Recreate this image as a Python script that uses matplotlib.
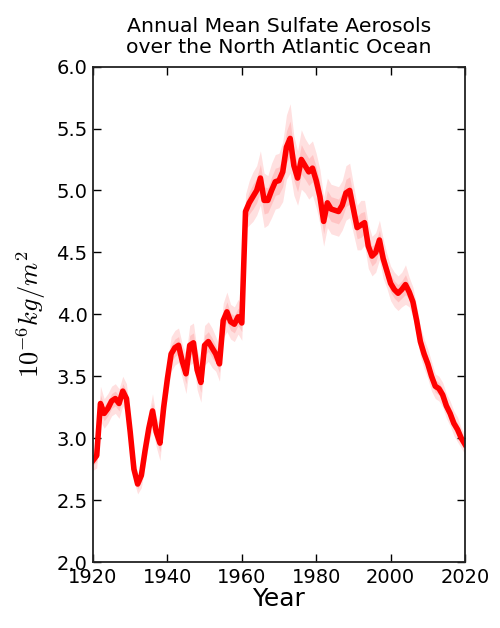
import matplotlib
matplotlib.use("Agg")
import matplotlib.pyplot as plt
import numpy as np

plt.rcParams["mathtext.fontset"] = "cm"

years = list(range(1920, 2021))
mean_vals = [
    2.82, 2.86, 3.28, 3.20, 3.24, 3.30, 3.32, 3.28, 3.38, 3.32,
    3.05, 2.75, 2.63, 2.70, 2.90, 3.08, 3.22, 3.05, 2.96, 3.25,
    3.48, 3.68, 3.73, 3.75, 3.62, 3.52, 3.75, 3.77, 3.55, 3.45,
    3.75, 3.78, 3.73, 3.68, 3.60, 3.95, 4.02, 3.94, 3.92, 3.98,
    3.93, 4.83, 4.90, 4.95, 5.00, 5.10, 4.92, 4.92, 5.00, 5.07,
    5.08, 5.15, 5.35, 5.42, 5.20, 5.10, 5.25, 5.20, 5.15, 5.18,
    5.08, 4.95, 4.75, 4.90, 4.85, 4.84, 4.83, 4.88, 4.98, 5.00,
    4.85, 4.70, 4.72, 4.74, 4.55, 4.47, 4.50, 4.60, 4.45, 4.35,
    4.25, 4.20, 4.17, 4.20, 4.24, 4.18, 4.10, 3.95, 3.78, 3.68,
    3.60, 3.50, 3.42, 3.40, 3.35, 3.26, 3.20, 3.12, 3.07, 3.00,
    2.95,
]
# approximate half-width of ensemble spread
spread = [
    0.08, 0.10, 0.14, 0.12, 0.12, 0.12, 0.12, 0.12, 0.12, 0.12,
    0.12, 0.10, 0.08, 0.10, 0.12, 0.12, 0.14, 0.12, 0.14, 0.14,
    0.14, 0.14, 0.14, 0.14, 0.14, 0.16, 0.16, 0.16, 0.16, 0.16,
    0.16, 0.16, 0.16, 0.14, 0.14, 0.14, 0.16, 0.14, 0.14, 0.14,
    0.14, 0.14, 0.18, 0.20, 0.20, 0.22, 0.22, 0.20, 0.22, 0.22,
    0.22, 0.24, 0.26, 0.28, 0.24, 0.22, 0.24, 0.22, 0.22, 0.22,
    0.22, 0.22, 0.20, 0.20, 0.20, 0.20, 0.20, 0.20, 0.22, 0.22,
    0.20, 0.18, 0.20, 0.18, 0.18, 0.16, 0.16, 0.16, 0.16, 0.14,
    0.14, 0.14, 0.14, 0.14, 0.16, 0.12, 0.12, 0.12, 0.12, 0.12,
    0.12, 0.12, 0.10, 0.10, 0.10, 0.10, 0.10, 0.10, 0.10, 0.08,
    0.08,
]
x_ticks = [1920, 1940, 1960, 1980, 2000, 2020]
y_ticks = [2.0, 2.5, 3.0, 3.5, 4.0, 4.5, 5.0, 5.5, 6.0]

fig = plt.figure(figsize=(5.0, 6.28), dpi=100)
ax = fig.add_axes([0.186, 0.105, 0.744, 0.789])

m = np.array(mean_vals)
s = np.array(spread)
ax.fill_between(years, m - s, m + s, color="red", alpha=0.12, lw=0)
ax.fill_between(years, m - 0.5 * s, m + 0.5 * s, color="red", alpha=0.12, lw=0)
ax.plot(years, mean_vals, color="red", lw=4.0, solid_joinstyle="round")

ax.set_xlim(1920, 2020)
ax.set_ylim(2.0, 6.0)
ax.set_xticks(x_ticks)
ax.set_yticks(y_ticks)
ax.set_yticklabels([f"{v:.1f}" for v in y_ticks])
ax.tick_params(direction="in", length=6, width=1, top=True, right=True,
               labelsize=14, pad=4)
for sp in ax.spines.values():
    sp.set_linewidth(1.3)
    sp.set_color("#222222")

ax.set_xlabel("Year", fontsize=18, labelpad=0)
ax.set_ylabel(r"$10^{-6}kg/m^2$", fontsize=19, labelpad=6)
ax.set_title("Annual Mean Sulfate Aerosols\nover the North Atlantic Ocean",
             fontsize=14.7, pad=10, linespacing=1.1)

fig.savefig("out.png", dpi=100)
